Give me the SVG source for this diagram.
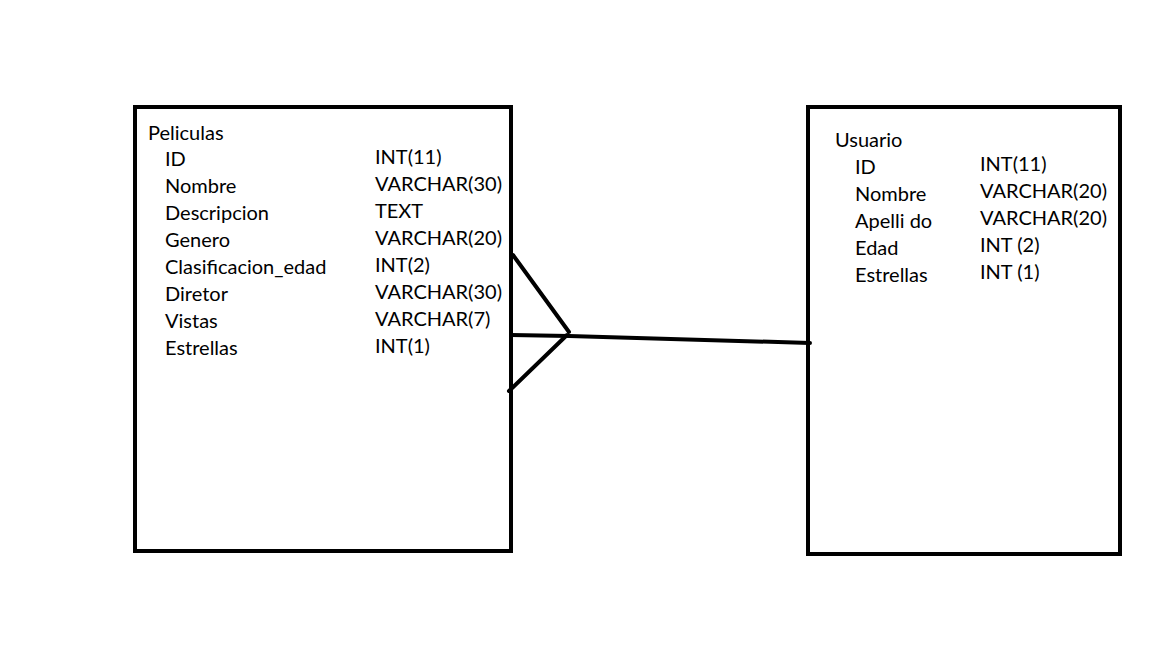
<svg xmlns="http://www.w3.org/2000/svg" width="1152" height="648" viewBox="0 0 1152 648">
<style>
.box{fill:#fff;stroke:#000;stroke-width:4}
.t{font-family:Lato,"Open Sans",sans-serif;font-size:20px;fill:#000}
.ln{stroke:#000;stroke-width:4;fill:none;stroke-linecap:round}
</style>
<rect width="1152" height="648" fill="#fff"/>
<g id="peliculas">
<rect class="box" x="135" y="107" width="376" height="444"/>
<text class="t" x="148" y="140">Peliculas</text>
<text class="t" x="165" y="166">ID</text>
<text class="t" x="165" y="193">Nombre</text>
<text class="t" x="165" y="220">Descripcion</text>
<text class="t" x="165" y="247">Genero</text>
<text class="t" x="165" y="274">Clasificacion_edad</text>
<text class="t" x="165" y="301">Diretor</text>
<text class="t" x="165" y="328">Vistas</text>
<text class="t" x="165" y="355">Estrellas</text>
<text class="t" x="375" y="164">INT(11)</text>
<text class="t" x="375" y="191">VARCHAR(30)</text>
<text class="t" x="375" y="218">TEXT</text>
<text class="t" x="375" y="245">VARCHAR(20)</text>
<text class="t" x="375" y="272">INT(2)</text>
<text class="t" x="375" y="299">VARCHAR(30)</text>
<text class="t" x="375" y="326">VARCHAR(7)</text>
<text class="t" x="375" y="353">INT(1)</text>
</g>
<g id="usuario">
<rect class="box" x="808" y="107" width="312" height="447"/>
<text class="t" x="835" y="147">Usuario</text>
<text class="t" x="855" y="174">ID</text>
<text class="t" x="855" y="201">Nombre</text>
<text class="t" x="855" y="228">Apelli do</text>
<text class="t" x="855" y="255">Edad</text>
<text class="t" x="855" y="282">Estrellas</text>
<text class="t" x="980" y="171">INT(11)</text>
<text class="t" x="980" y="198">VARCHAR(20)</text>
<text class="t" x="980" y="225">VARCHAR(20)</text>
<text class="t" x="980" y="252">INT (2)</text>
<text class="t" x="980" y="279">INT (1)</text>
</g>
<g id="connectors">
<path class="ln" d="M513 255 L569 332"/>
<path class="ln" d="M511 335 L569 336 L810 343"/>
<path class="ln" d="M509 391 L567 335"/>
</g>
</svg>
